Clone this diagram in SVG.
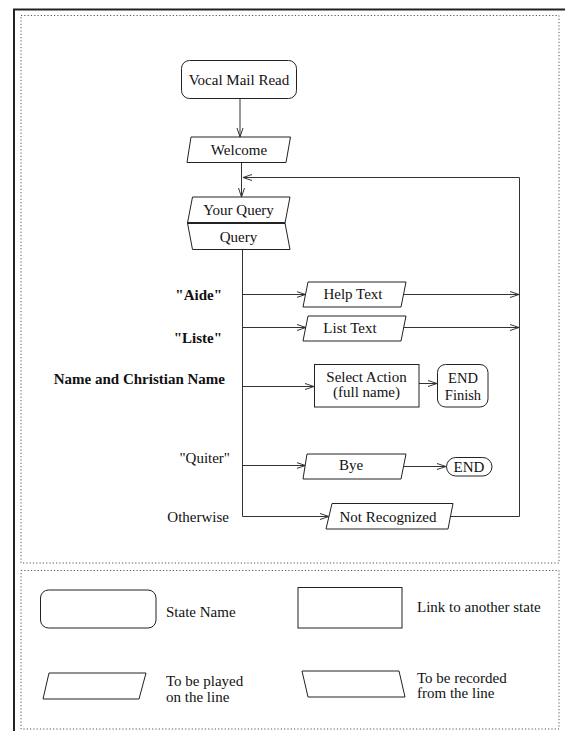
<svg xmlns="http://www.w3.org/2000/svg" width="565" height="731" viewBox="0 0 565 731">
  <style>
    .t { font-family: "Liberation Serif", "Times New Roman", serif; font-size: 15px; fill: #111; }
    .s { font-size: 14.5px; }
    .c { text-anchor: middle; }
    .r { text-anchor: end; }
    .b { font-weight: bold; }
    .shape { fill: #fff; stroke: #222; stroke-width: 1; }
    .conn { fill: none; stroke: #333; stroke-width: 1; }
    .frame { fill: none; stroke: #222; stroke-width: 2; }
    .dots { fill: none; stroke: #555; stroke-width: 1; stroke-dasharray: 1.2 2.1; }
  </style>
  <defs>
    <marker id="arrow" markerUnits="userSpaceOnUse" markerWidth="11" markerHeight="8" refX="9" refY="3.5" orient="auto">
      <path d="M0,0.5 L9,3.5 L0,6.5" fill="none" stroke="#333" stroke-width="1"/>
    </marker>
  </defs>

  <rect width="565" height="731" fill="#fff"/>

  <!-- page frame and panel borders -->
  <path class="frame" d="M14,731 V9.5 H565"/>
  <rect class="dots" x="21" y="15.5" width="538" height="547.5"/>
  <rect class="dots" x="21" y="570.5" width="538" height="158.5"/>

  <!-- connectors -->
  <g id="connectors">
    <line class="conn" x1="240" y1="98.5" x2="240" y2="137" marker-end="url(#arrow)"/>
    <line class="conn" x1="241.5" y1="162.5" x2="241.5" y2="197" marker-end="url(#arrow)"/>
    <line class="conn" x1="242.5" y1="249.5" x2="242.5" y2="516.5"/>
    <line class="conn" x1="242.5" y1="294.5" x2="305.5" y2="294.5" marker-end="url(#arrow)"/>
    <line class="conn" x1="403.5" y1="294.5" x2="519" y2="294.5" marker-end="url(#arrow)"/>
    <line class="conn" x1="242.5" y1="327.5" x2="306" y2="327.5" marker-end="url(#arrow)"/>
    <line class="conn" x1="403.5" y1="327.5" x2="519" y2="327.5" marker-end="url(#arrow)"/>
    <line class="conn" x1="242.5" y1="386.5" x2="314" y2="386.5" marker-end="url(#arrow)"/>
    <line class="conn" x1="419" y1="383.5" x2="437" y2="383.5" marker-end="url(#arrow)"/>
    <line class="conn" x1="242.5" y1="465.5" x2="305.5" y2="465.5" marker-end="url(#arrow)"/>
    <line class="conn" x1="404" y1="466.5" x2="446" y2="466.5" marker-end="url(#arrow)"/>
    <line class="conn" x1="242.5" y1="516.5" x2="329" y2="516.5" marker-end="url(#arrow)"/>
    <path class="conn" d="M450.5,516.5 H519.5 V177.5 H243" marker-end="url(#arrow)"/>
  </g>

  <!-- flow nodes -->
  <g id="vocal-mail-read">
    <rect class="shape" x="181.5" y="60.5" width="115" height="38" rx="8"/>
    <text class="t c" x="239" y="85">Vocal Mail Read</text>
  </g>
  <g id="welcome">
    <polygon class="shape" points="191,137 290.5,137 286,162.5 187,162.5"/>
    <text class="t c" x="239" y="155">Welcome</text>
  </g>
  <g id="your-query">
    <polygon class="shape" points="192.5,197 290,197 285,223 187.5,223"/>
    <polygon class="shape" points="187.5,223 285,223 290,249.5 192.5,249.5"/>
    <line x1="187.5" y1="223" x2="285" y2="223" stroke="#222" stroke-width="2"/>
    <text class="t c" x="238.5" y="215">Your Query</text>
    <text class="t c" x="238.5" y="241.5">Query</text>
  </g>
  <g id="help-text">
    <polygon class="shape" points="308,282 406,282 401,307 303,307"/>
    <text class="t c" x="353" y="298.5">Help Text</text>
  </g>
  <g id="list-text">
    <polygon class="shape" points="308,316 406,316 401,341 303,341"/>
    <text class="t c" x="350" y="333">List Text</text>
  </g>
  <g id="select-action">
    <rect class="shape" x="314.5" y="364.5" width="104.5" height="42.5"/>
    <text class="t c" x="366.5" y="382">Select Action</text>
    <text class="t c" x="366.5" y="397">(full name)</text>
  </g>
  <g id="end-finish">
    <rect class="shape" x="437.5" y="364.5" width="50.5" height="42.5" rx="8"/>
    <text class="t s c" x="463" y="383">END</text>
    <text class="t s c" x="463" y="399.5">Finish</text>
  </g>
  <g id="bye">
    <polygon class="shape" points="307,454 406,454 401,479 303,479"/>
    <text class="t c" x="351" y="470">Bye</text>
  </g>
  <g id="end">
    <rect class="shape" x="446.5" y="457.5" width="45.5" height="18.5" rx="9.25"/>
    <text class="t c" x="469" y="472">END</text>
  </g>
  <g id="not-recognized">
    <polygon class="shape" points="332,503.5 453,503.5 448,529 326,529"/>
    <text class="t c" x="388" y="522">Not Recognized</text>
  </g>

  <!-- branch labels -->
  <g id="labels">
    <text class="t r b" x="222" y="299.5">"Aide"</text>
    <text class="t r b" x="222" y="342.5">"Liste"</text>
    <text class="t r b" x="225" y="384">Name and Christian Name</text>
    <text class="t r" x="230" y="463">"Quiter"</text>
    <text class="t r" x="229" y="522">Otherwise</text>
  </g>

  <!-- legend -->
  <g id="legend-state">
    <rect class="shape" x="40.5" y="590" width="115.5" height="38" rx="8"/>
    <text class="t" x="166" y="617">State Name</text>
  </g>
  <g id="legend-link">
    <rect class="shape" x="298" y="587.5" width="104" height="40.5"/>
    <text class="t" x="417" y="612">Link to another state</text>
  </g>
  <g id="legend-played">
    <polygon class="shape" points="49,673 146,673 139,699 43,699"/>
    <text class="t" x="166" y="686">To be played</text>
    <text class="t" x="166" y="702">on the line</text>
  </g>
  <g id="legend-recorded">
    <polygon class="shape" points="302,671 399,671 405,697 308,697"/>
    <text class="t" x="417" y="683">To be recorded</text>
    <text class="t" x="417" y="698">from the line</text>
  </g>
</svg>
